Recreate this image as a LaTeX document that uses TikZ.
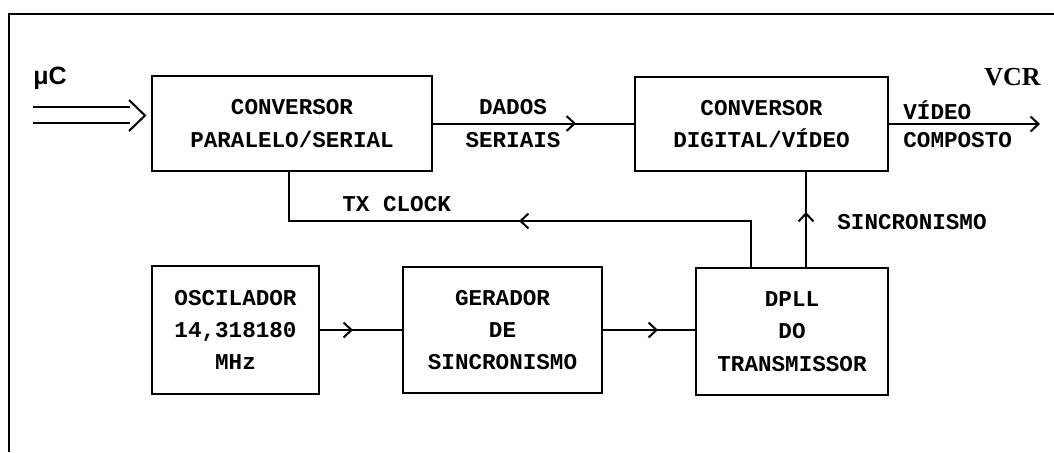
\documentclass[tikz,border=0pt]{standalone}
\usepackage{fontspec}
\setmonofont{Liberation Mono}
\newfontfamily\labsans{Liberation Sans}
\newfontfamily\labserif{Liberation Serif}
\usetikzlibrary{arrows.meta,decorations.markings}
\tikzset{>={Straight Barb[length=4pt,width=7.5pt]}}
\begin{document}
\begin{tikzpicture}[x=0.5pt,y=-0.5pt,
  blk/.style={draw,line width=1pt,rectangle,inner sep=0pt,align=center,
    font=\ttfamily\bfseries\fontsize{11.3}{16.2}\selectfont},
  lbl/.style={inner sep=0pt,font=\ttfamily\bfseries\fontsize{11.3}{16}\selectfont},
  wire/.style={line width=1pt},
  midarrow/.style={postaction={decorate},
    decoration={markings,mark=at position #1 with {\arrow{>}}}}
]
\useasboundingbox (0,0) rectangle (1054,452);
% frame
\coordinate (fbl) at (9,452);
\coordinate (ftl) at (9,14);
\coordinate (ftr) at (1054,14);
\draw[line width=1pt] (fbl) -- (ftl) -- (ftr);

% blocks
\node[blk,minimum width=140pt,minimum height=47.5pt] (ps) at (292,123.5) {CONVERSOR\\PARALELO/SERIAL};
\node[blk,minimum width=126.5pt,minimum height=47pt] (dv) at (761.5,124) {CONVERSOR\\DIGITAL/VÍDEO};
\node[blk,minimum width=83.5pt,minimum height=64pt] (osc) at (235.5,330) {OSCILADOR\\14,318180\\MHz};
\node[blk,minimum width=99.5pt,minimum height=63pt] (ger) at (502.5,330) {GERADOR\\DE\\SINCRONISMO};
\node[blk,minimum width=96pt,minimum height=63.5pt] (dpll) at (792,331.5) {DPLL\\DO\\TRANSMISSOR};

% input double arrow
\coordinate (ia1) at (33,107);
\coordinate (ib1) at (130,107);
\coordinate (ia2) at (33,123);
\coordinate (ib2) at (130,123);
\coordinate (cht) at (129,100);
\coordinate (chp) at (145,115.5);
\coordinate (chb) at (129,131);
\draw[wire] (ia1) -- (ib1);
\draw[wire] (ia2) -- (ib2);
\draw[wire,line join=miter] (cht) -- (chp) -- (chb);

% data path
\draw[wire,midarrow=71.5pt] (ps.east) -- (ps.east -| dv.west);
\coordinate (vout) at (1040,124);
\draw[wire,->] (dv.east) -- (vout);

% TX clock
\coordinate (txa) at (751,221);
\coordinate (txb) at (289,221);
\draw[wire,midarrow=139pt] (dpll.north -| txa) -- (txa) -- (txb) -- (txb |- ps.south);

% sincronismo
\coordinate (sx) at (806,0);
\draw[wire,midarrow=27.5pt] (dpll.north -| sx) -- (dv.south -| sx);

% lower chain
\draw[wire,midarrow=16.5pt] (osc.east) -- (osc.east -| ger.west);
\draw[wire,midarrow=27.5pt] (ger.east) -- (ger.east -| dpll.west);

% labels
\node[lbl] (dados) at (513,107) {DADOS};
\node[lbl] (seriais) at (513,140) {SERIAIS};
\node[lbl,anchor=west] (video) at (903,110) {VÍDEO};
\node[lbl,anchor=west] (composto) at (903,140) {COMPOSTO};
\node[lbl,anchor=west] (txclock) at (342,204) {TX CLOCK};
\node[lbl,anchor=west] (sinc) at (837,222) {SINCRONISMO};
\node[inner sep=0pt,anchor=base west,font=\labsans\bfseries\fontsize{12.5}{14}\selectfont] (uc) at (33,84) {μC};
\node[inner sep=0pt,anchor=base east,font=\labserif\bfseries\fontsize{13}{15}\selectfont] (vcr) at (1041,85) {VCR};
\end{tikzpicture}
\end{document}
